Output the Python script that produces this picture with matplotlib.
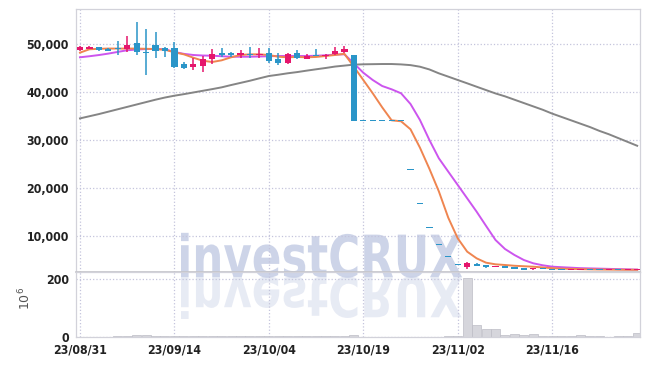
import matplotlib
matplotlib.use("Agg")
import matplotlib.pyplot as plt
import numpy as np
from matplotlib import font_manager
from matplotlib.textpath import TextPath
from matplotlib.font_manager import FontProperties
from matplotlib.patches import PathPatch
from matplotlib.transforms import Affine2D

# trading-day labels shown on the x axis (every 10th session)
tick_labels = ['23/08/31', '23/09/14', '23/10/04', '23/10/19', '23/11/02', '23/11/16']

opens = [48800, 49000, 49350, 49050, 49000, 48900, 50200, 48400, 49800, 49150,
         49100, 45750, 45200, 45400, 46800, 48200, 48200, 47700, 48000, 47700,
         48200, 46800, 46100, 48050, 46950, 47650, 47400, 47850, 48400, 47700,
         33900, 33900, 33900, 33900, 33900, 23750, 16650, 11650, 8150, 5700,
         3990, 3480, 4170, 3900, 3540, 3750, 3480, 3330, 3060, 3200,
         3150, 3100, 2950, 3000, 3100, 3050, 2950, 3000, 2950, 2950]
highs = [49550, 49650, 49400, 49100, 50600, 51700, 54500, 53100, 52450, 49450,
         50450, 46300, 47150, 47500, 48950, 49100, 48400, 48800, 49450, 49100,
         49100, 48200, 48200, 48700, 47850, 49050, 48000, 49450, 49650, 47700,
         33900, 33900, 33900, 33900, 33900, 23750, 16650, 11650, 8150, 5700,
         3990, 4650, 4300, 4000, 3800, 3800, 3550, 3400, 3250, 3300,
         3200, 3150, 3100, 3200, 3150, 3100, 3050, 3050, 3050, 3100]
lows = [48550, 48900, 48550, 48450, 47700, 48250, 47700, 43450, 47000, 47350,
        45000, 44800, 44600, 44250, 45750, 47350, 47300, 47150, 47150, 47150,
        46000, 45600, 45900, 46800, 46850, 47400, 46900, 47700, 48050, 33900,
        33900, 33900, 33900, 33900, 33900, 23750, 16650, 11650, 8150, 5700,
        3990, 3190, 3700, 3400, 3450, 3300, 3150, 2950, 3000, 3050,
        2950, 2900, 2900, 2950, 2950, 2900, 2900, 2900, 2900, 2900]
closes = [49300, 49350, 48650, 48600, 48900, 49800, 48250, 48200, 48600, 48600,
          45150, 45050, 45750, 46800, 47900, 47750, 47800, 48200, 47700, 48000,
          46500, 46000, 47850, 47000, 47550, 47450, 47650, 48550, 48900, 33900,
          33900, 33900, 33900, 33900, 33900, 23750, 16650, 11650, 8150, 5700,
          3990, 4310, 3750, 3480, 3750, 3330, 3190, 2980, 3190, 3100,
          3000, 2950, 3050, 3100, 3000, 2950, 3000, 2950, 3000, 3050]
volume = [1, 1, 1, 1, 2, 5, 7, 6, 4, 3,
          4, 3, 2, 5, 3, 4, 3, 3, 4, 3,
          4, 4, 5, 4, 4, 4, 4, 5, 5, 6,
          0, 0, 0, 0, 0, 0.5, 0.5, 1, 1, 2,
          5, 203, 41, 27, 27, 6, 9, 6, 10, 4,
          2, 2, 2, 6, 3, 3, 1, 3, 3, 14]

ma_short = [48200, 48900, 49000, 49050, 49050, 49050, 49050, 49000, 48950, 48800,
            48270, 47850, 47150, 46520, 46250, 46600, 47230, 47710, 47850, 47850,
            47710, 47350, 47230, 47300, 47230, 47300, 47500, 47710, 47950, 45270,
            42500, 39730, 36810, 34100, 33900, 32230, 28400, 24000, 19300, 13800,
            9520, 6740, 5350, 4440, 4100, 3960, 3800, 3700, 3600, 3450,
            3300, 3200, 3150, 3100, 3050, 3020, 3000, 2980, 2970, 2960]
ma_mid = [47230, 47450, 47700, 48000, 48350, 48700, 48850, 48950, 48960, 48900,
          48350, 47950, 47710, 47600, 47560, 47450, 47350, 47350, 47350, 47400,
          47450, 47500, 47500, 47500, 47500, 47550, 47650, 47800, 47850, 45980,
          44020, 42500, 41250, 40560, 39730, 37500, 34170, 30000, 26190, 23400,
          20630, 17850, 15070, 12100, 9170, 7300, 6050, 5000, 4310, 3900,
          3610, 3500, 3400, 3300, 3250, 3200, 3150, 3100, 3050, 3000]
ma_long = [34500, 34950, 35400, 35900, 36400, 36900, 37400, 37900, 38400, 38850,
           39230, 39550, 39900, 40250, 40600, 40970, 41450, 41900, 42350, 42850,
           43330, 43600, 43900, 44150, 44450, 44730, 45000, 45300, 45500, 45700,
           45770, 45800, 45830, 45830, 45750, 45600, 45270, 44700, 43890, 43200,
           42500, 41810, 41100, 40400, 39700, 39100, 38400, 37700, 37000, 36300,
           35500, 34800, 34100, 33400, 32700, 31900, 31200, 30400, 29600, 28800]

UP = '#e5166c'
DOWN = '#2a95c8'
GRID = '#c4c4dc'

# pick a narrow face for tick labels if one is installed
entries = font_manager.fontManager.ttflist
names = {f.name for f in entries}
if 'Liberation Sans Narrow' in names:
    tick_fp = FontProperties(family='Liberation Sans Narrow', weight='bold', size=10.5)
elif any(f.name == 'DejaVu Sans' and 'condensed' in str(f.stretch) for f in entries):
    tick_fp = FontProperties(family='DejaVu Sans', stretch='condensed', weight='bold', size=8.8)
else:
    tick_fp = FontProperties(family='DejaVu Sans', size=8.5)

days = np.arange(len(closes))
o = np.array(opens); c = np.array(closes)
colors = [UP if cc > oo else DOWN for oo, cc in zip(o, c)]

fig = plt.figure(figsize=(6.5, 3.66), dpi=100, facecolor='white')
L, R = 76 / 650, 640 / 650
ax = fig.add_axes([L, 1 - 272 / 366, R - L, (272 - 9.3) / 366])
axv = fig.add_axes([L, 1 - 337 / 366, R - L, (337 - 272) / 366], sharex=ax)
for a in (ax, axv):
    a.set_facecolor('none')
    for s in a.spines.values():
        s.set_color('#d2d2da')
        s.set_linewidth(0.9)
    a.grid(True, linestyle=':', color=GRID, linewidth=0.9)
    a.set_axisbelow(True)
    a.tick_params(length=0, colors='#222222', pad=5)
ax.spines['bottom'].set_color('#c4c4c8')
ax.spines['bottom'].set_linewidth(1.2)

# watermark + its reflection, under the data
fp = FontProperties(family='DejaVu Sans', weight='bold')
tp = TextPath((0, 0), 'investCRUX', prop=fp, size=1)
ext = tp.get_extents()
x0, x1 = 181 / 650, 462 / 650
yb, yt = 1 - 277 / 366, 1 - 232 / 366
sx = (x1 - x0) / ext.width
sy = (yt - yb) / ext.height
up_tf = Affine2D().translate(-ext.x0, 0).scale(sx, sy).translate(x0, yb)
dn_tf = Affine2D().translate(-ext.x0, 0).scale(sx, -sy * 0.95).translate(x0, yb)
ax.add_patch(PathPatch(tp, transform=up_tf + fig.transFigure, color='#c5cde5',
                       alpha=0.85, lw=0, clip_on=False, zorder=0.5))
ax.add_patch(PathPatch(tp, transform=dn_tf + fig.transFigure, color='#c5cde5',
                       alpha=0.4, lw=0, clip_on=False, zorder=0.5))

# moving averages
ax.plot(days, ma_long, color='#858585', lw=1.4, zorder=2)
ax.plot(days, ma_mid, color='#cc55ee', lw=1.4, zorder=2)
ax.plot(days, ma_short, color='#ef8550', lw=1.4, zorder=2)

# candles
ax.vlines(days, lows, highs, colors=colors, lw=1.1, zorder=3)
body_h = np.maximum(np.abs(c - o), 200)
ax.bar(days, body_h, bottom=np.minimum(o, c), width=0.66, color=colors, lw=0, zorder=3)

ax.set_ylim(2500, 57230)
ax.set_yticks([10000, 20000, 30000, 40000, 50000])
ax.set_yticklabels(['10,000', '20,000', '30,000', '40,000', '50,000'])
ax.tick_params(axis='x', labelbottom=False)

axv.bar(days, volume, width=0.95, color='#d6d6dc', edgecolor='#bdbdc6', lw=0.5)
axv.set_ylim(0, 225)
axv.set_yticks([0, 200])
axv.set_xlim(-0.42, 59.3)
axv.set_xticks([0, 10, 20, 30, 40, 50])
axv.set_xticklabels(tick_labels)
axv.tick_params(axis='x', pad=5)
axv.set_ylabel('10$^6$', family='DejaVu Sans', fontsize=9, color='#555555')
axv.yaxis.set_label_coords(-0.076, 0.6)

for lbl in ax.get_yticklabels() + axv.get_yticklabels() + axv.get_xticklabels():
    lbl.set_fontproperties(tick_fp)

fig.savefig('out.png', dpi=100, facecolor='white')
